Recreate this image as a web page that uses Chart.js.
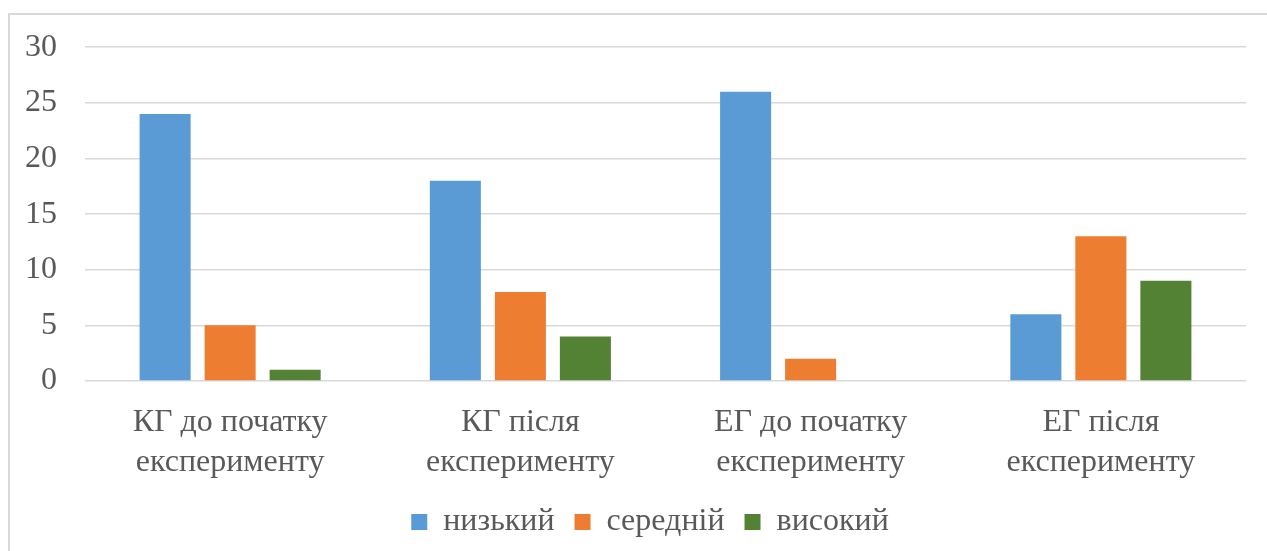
<!DOCTYPE html>
<html>
<head>
<meta charset="utf-8">
<script src="https://cdn.jsdelivr.net/npm/chart.js@4/dist/chart.umd.min.js"></script>
<style>
  html, body { margin: 0; padding: 0; background: #fff; overflow: hidden; }
  .frame {
    position: absolute; left: 8px; top: 13px; width: 1280px; height: 560px;
    border: 2px solid #d9d9d9; box-sizing: border-box;
  }
  canvas { position: absolute; left: 0; top: 0; }
</style>
</head>
<body>
<div class="frame"></div>
<canvas id="chart" width="1267" height="551"></canvas>
<script>
const categories = [
  ['КГ до початку', 'експерименту'],
  ['КГ після', 'експерименту'],
  ['ЕГ до початку', 'експерименту'],
  ['ЕГ після', 'експерименту']
];
const seriesNames = ['низький', 'середній', 'високий'];
const lowValues = [24, 18, 26, 6];
const midValues = [5, 8, 2, 13];
const highValues = [1, 4, 0, 9];
const yTicks = [0, 5, 10, 15, 20, 25, 30];

const colors = ['#5b9bd5', '#ed7d31', '#548235'];
const textColor = '#595959';
const serif = '"Liberation Serif", "Times New Roman", serif';

// nudge the legend row after layout (x, y offsets in px)
const legendOffset = { id: 'legendOffset', afterLayout(chart) {
  const lg = chart.legend;
  if (!lg) return;
  lg.left += 27; lg.right += 27;
  lg.top -= 3; lg.bottom -= 3;
} };

const ctx = document.getElementById('chart').getContext('2d');

new Chart(ctx, {
  type: 'bar',
  data: {
    labels: categories,
    datasets: [lowValues, midValues, highValues].map((values, i) => ({
      label: seriesNames[i],
      data: values,
      backgroundColor: colors[i],
      categoryPercentage: 0.672,
      barPercentage: 0.785
    }))
  },
  plugins: [legendOffset],
  options: {
    responsive: false,
    animation: false,
    layout: { padding: { top: 45, right: 21, bottom: 0, left: 0 } },
    plugins: {
      title: { display: false },
      tooltip: { enabled: false },
      legend: {
        position: 'bottom',
        labels: {
          color: textColor,
          font: { family: serif, size: 32 },
          boxWidth: 16,
          boxHeight: 16,
          padding: 20
        }
      }
    },
    scales: {
      x: {
        grid: { display: false },
        border: { display: false },
        ticks: {
          color: textColor,
          font: { family: serif, size: 32, lineHeight: 1.25 },
          padding: 14,
          maxRotation: 0
        },
        afterFit: (scale) => { scale.height = 108; }
      },
      y: {
        min: 0,
        max: 30,
        border: { display: false },
        grid: { color: '#d9d9d9', lineWidth: 1.5, drawTicks: false },
        afterBuildTicks: (scale) => { scale.ticks = yTicks.map(v => ({ value: v })); },
        ticks: {
          color: textColor,
          font: { family: serif, size: 32 },
          padding: 28
        },
        afterFit: (scale) => { scale.width = 85; }
      }
    }
  }
});
</script>
</body>
</html>
